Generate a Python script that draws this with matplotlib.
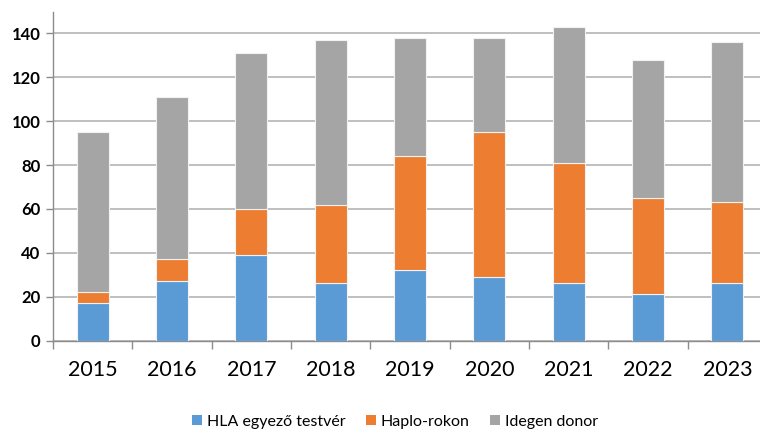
import numpy as np
import matplotlib
matplotlib.use('Agg')
import matplotlib.pyplot as plt
from matplotlib.patches import Patch

plt.rcParams['font.family'] = ['Lato', 'DejaVu Sans']

years = ['2015', '2016', '2017', '2018', '2019', '2020', '2021', '2022', '2023']
hla = [17, 27, 39, 26, 32, 29, 26, 21, 26]
haplo = [5, 10, 21, 36, 52, 66, 55, 44, 37]
idegen = [73, 74, 71, 75, 54, 43, 62, 63, 73]
labels = ['HLA egyező testvér', 'Haplo-rokon', 'Idegen donor']
colors = ['#5B9BD5', '#ED7D31', '#A5A5A5']

fig = plt.figure(figsize=(7.6, 4.32), dpi=100)
ax = fig.add_axes([53 / 760, 1 - 340.5 / 432, 714 / 760, 329 / 432])

x = np.arange(len(years))
w = 0.4
bottom = np.zeros(len(years))
for vals, col in zip([hla, haplo, idegen], colors):
    ax.bar(x, vals, w, bottom=bottom, color=col, edgecolor='#f2f2f2', linewidth=0.8, zorder=3)
    bottom += np.array(vals)

ax.set_xlim(-0.5, len(years) - 0.5)
ax.set_ylim(0, 150)
ax.set_yticks(range(0, 141, 20))
ax.set_yticklabels([str(v) for v in range(0, 141, 20)], fontsize=12, fontweight='bold')
ax.yaxis.grid(True, color='#b4b4b4', linewidth=1.2, zorder=0)

# category boundary ticks on x axis, labels in the middle
ax.set_xticks(np.arange(-0.5, len(years), 1))
ax.set_xticklabels([])
ax.set_xticks(x, minor=True)
ax.set_xticklabels(years, minor=True, fontsize=15.5)
ax.tick_params(axis='x', which='major', length=6, color='#8c8c8c', width=1)
ax.tick_params(axis='x', which='minor', length=0, pad=14)
ax.tick_params(axis='y', length=5, color='#8c8c8c', width=1, pad=4)

for s in ['top', 'right']:
    ax.spines[s].set_visible(False)
ax.spines['left'].set_color('#8c8c8c')
ax.spines['bottom'].set_color('#8c8c8c')
ax.spines['left'].set_linewidth(1)
ax.spines['bottom'].set_linewidth(1)

handles = [Patch(facecolor=c, label=l) for c, l in zip(colors, labels)]
fig.legend(handles=handles, loc='center', bbox_to_anchor=(395 / 760, 1 - 422 / 432),
           ncol=3, frameon=False, fontsize=11.5, handlelength=0.6, handleheight=0.6,
           handletextpad=0.3, columnspacing=1.3)

fig.savefig('out.png', dpi=100)
